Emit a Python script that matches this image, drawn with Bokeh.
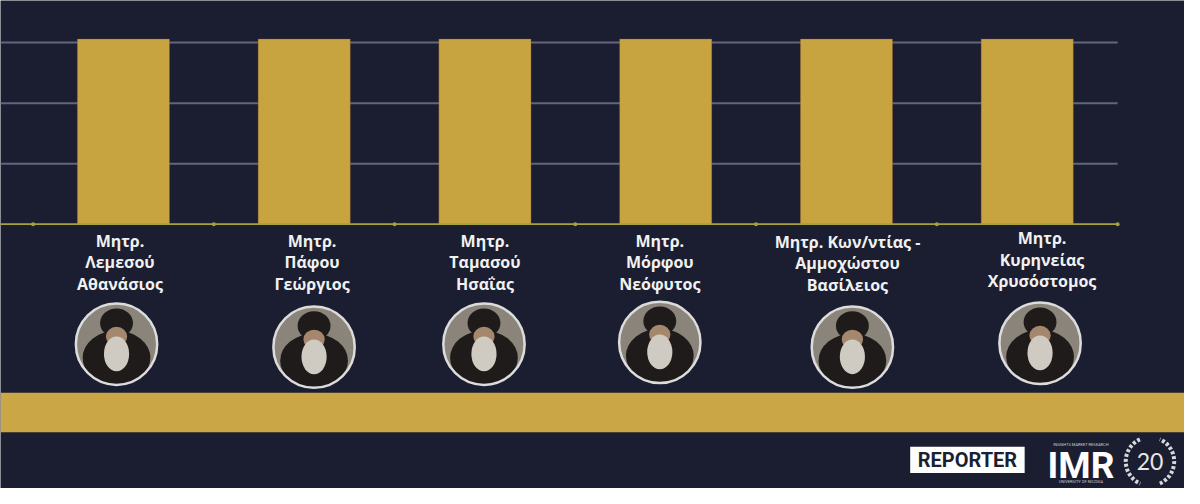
from bokeh.plotting import figure
from bokeh.models import Range1d, BoxAnnotation
from bokeh.core.properties import value
from bokeh.embed import file_html
from bokeh.resources import INLINE

# ---------------- data ----------------
categories = [
    "Μητρ.\nΛεμεσού\nΑθανάσιος",
    "Μητρ.\nΠάφου\nΓεώργιος",
    "Μητρ.\nΤαμασού\nΗσαΐας",
    "Μητρ.\nΜόρφου\nΝεόφυτος",
    "Μητρ. Κων/ντίας -\nΑμμοχώστου\nΒασίλειος",
    "Μητρ.\nΚυρηνείας\nΧρυσόστομος",
]
values = [30.6, 30.6, 30.6, 30.6, 30.6, 30.6]
grid_ticks = [10, 20, 30]

# ---------------- layout (reference pixels, scaled to canvas) ----------------
W, H = 1184, 488
REF_W, REF_H = 1200, 504
SX, SY = W / REF_W, H / REF_H
BAND_REF = 183.2      # reference px per category band
UNIT_REF = 6.25       # reference px per value unit
LEFT_REF = 33         # reference x of first band edge
BASE_REF = 231        # reference y of baseline
label_dx = [-3.5, 8, 0, -6, 1, 15]
label_dy = [0, 0, 0, 0, 1, -3]
circle_dx = [-7, 10, -1, -6, 6, 13]
circle_y = [355, 358, 355, 353, 358, 354]

BG = "#1a1e30"
GOLD = "#c8a441"
BAND = "#caa646"
GRID = "#62667a"
BASE = "#a9a23c"

x_start = -LEFT_REF / BAND_REF
x_end = x_start + REF_W / BAND_REF
y_top = BASE_REF / UNIT_REF
y_bot = y_top - REF_H / UNIT_REF


def X(ref_x):
    return x_start + ref_x / BAND_REF


def Y(ref_y):
    return y_top - ref_y / UNIT_REF


def S(px):
    return px * SY


n = len(categories)
centers = [i + 0.5 for i in range(n)]

p = figure(width=W, height=H, x_range=Range1d(x_start, x_end), y_range=Range1d(y_bot, y_top),
           min_border=0, toolbar_location=None, output_backend="svg",
           background_fill_color=BG, border_fill_color=BG, outline_line_color=None,
           x_axis_location=None, y_axis_location=None)
p.grid.visible = False

# grid lines
p.segment(x0=[x_start] * len(grid_ticks), x1=[n] * len(grid_ticks), y0=grid_ticks, y1=grid_ticks,
          line_color=GRID, line_width=2)

# bars
p.vbar(x=centers, top=values, bottom=0, width=0.51, fill_color=GOLD, line_color="#8a4a2a",
       line_width=0.6, line_alpha=0.5)

# baseline with tick dots at band boundaries
p.segment(x0=[x_start], x1=[n], y0=[0], y1=[0], line_color=BASE, line_width=1.6)
p.scatter(x=list(range(n + 1)), y=[0] * (n + 1), marker="circle", size=4,
          fill_color=BASE, line_color=None)

# category labels (multi-line)
lx, ly, lt = [], [], []
for i, cat in enumerate(categories):
    for j, line in enumerate(cat.split("\n")):
        lx.append(centers[i] + label_dx[i] / BAND_REF)
        ly.append(Y(248.5 + label_dy[i] + 22 * j))
        lt.append(line)
p.text(x=lx, y=ly, text=lt, text_font=value("Open Sans"), text_font_style="bold",
       text_font_size="16px", text_align="center", text_baseline="middle", text_color="#f1f1f1")

# portraits (stylised)
cx = [centers[i] + circle_dx[i] / BAND_REF for i in range(n)]
cy = [Y(circle_y[i]) for i in range(n)]
p.scatter(x=cx, y=cy, marker="circle", size=S(84), fill_color="#8a847a", line_color=None)
p.ellipse(x=cx, y=[c - 14 / UNIT_REF for c in cy], width=S(70), height=S(56), width_units="screen",
          height_units="screen", fill_color="#1f1b1a", line_color=None)
p.ellipse(x=cx, y=[c + 22 / UNIT_REF for c in cy], width=S(34), height=S(30), width_units="screen",
          height_units="screen", fill_color="#1f1b1a", line_color=None)
p.ellipse(x=cx, y=[c + 8 / UNIT_REF for c in cy], width=S(22), height=S(20), width_units="screen",
          height_units="screen", fill_color="#a5876d", line_color=None)
p.ellipse(x=cx, y=[c - 10 / UNIT_REF for c in cy], width=S(26), height=S(36), width_units="screen",
          height_units="screen", fill_color="#cfcac2", line_color=None)
p.scatter(x=cx, y=cy, marker="circle", size=S(84), fill_color=None, line_color="#dcdcdc",
          line_width=2.5)

# gold band
p.add_layout(BoxAnnotation(top=Y(405), bottom=Y(446), fill_color=BAND, fill_alpha=1.0,
                           line_color=None))

# logos
p.quad(left=[X(922)], right=[X(1038)], top=[Y(461)], bottom=[Y(488)], fill_color="white",
       line_color=None)
p.text(x=[X(980)], y=[Y(475)], text=["REPORTER"], text_font=value("Roboto"),
       text_font_style="bold", text_font_size="20px", text_align="center",
       text_baseline="middle", text_color="#1b1f33")
p.text(x=[X(1095)], y=[Y(480)], text=["IMR"], text_font=value("Roboto"),
       text_font_style="bold", text_font_size="37px", text_align="center",
       text_baseline="middle", text_color="white")
p.text(x=[X(1095)], y=[Y(459)], text=["INSIGHTS MARKET RESEARCH"], text_font=value("Roboto"),
       text_font_size="4px", text_align="center", text_baseline="middle", text_color="#d0d0d0")
p.text(x=[X(1095)], y=[Y(497)], text=["UNIVERSITY OF NICOSIA"], text_font=value("Roboto"),
       text_font_size="4px", text_align="center", text_baseline="middle", text_color="#d0d0d0")
p.text(x=[X(1165)], y=[Y(476)], text=["20"], text_font=value("Lato"),
       text_font_size="23px", text_align="center", text_baseline="middle", text_color="#e8e8e8")
p.arc(x=[X(1165)] * 2, y=[Y(476)] * 2, radius=S(25), radius_units="screen",
      start_angle=[2.0, -1.15], end_angle=[4.3, 1.15], line_color="#d8d8dc", line_width=4,
      line_dash="3 2")

open("out.html", "w").write(file_html(p, INLINE))
